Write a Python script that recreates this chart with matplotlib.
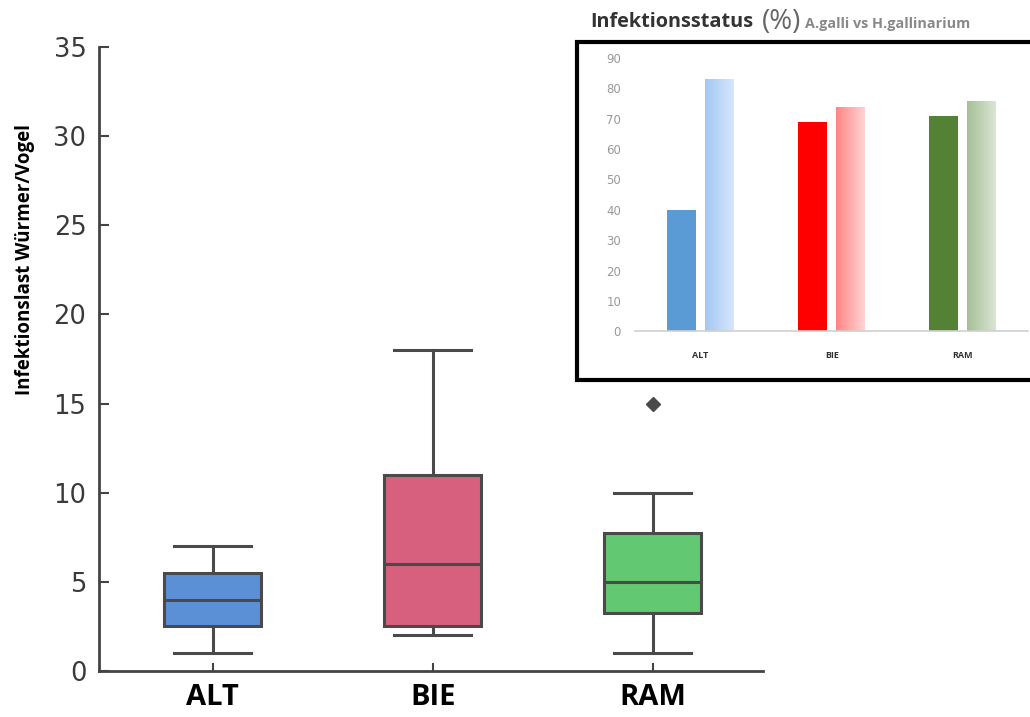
import matplotlib
matplotlib.use("Agg")
import matplotlib.pyplot as plt
import numpy as np
from matplotlib.patches import Rectangle
from matplotlib.colors import LinearSegmentedColormap

# ---- data: main boxplot ----
groups = ["ALT", "BIE", "RAM"]
whis_lo = [1, 2, 1]
q1 = [2.5, 2.5, 3.25]
med = [4, 6, 5]
q3 = [5.5, 11, 7.75]
whis_hi = [7, 18, 10]
outliers = [[], [], [15]]
box_colors = ["#5b8fd6", "#d6607e", "#63c872"]

# ---- data: inset bars ----
inset_cats = ["ALT", "BIE", "RAM"]
agalli = [40, 69, 71]
hgall = [83, 74, 76]
dark_cols = ["#5b9bd5", "#ff0000", "#548235"]
light_cols = ["#a4c8f4", "#ff8585", "#a5c097"]
light_end = ["#d6e6fb", "#ffd3d3", "#dbe5d4"]

fig = plt.figure(figsize=(10.3, 7.17), dpi=100)

ax = fig.add_axes([0.0961, 0.0642, 0.6447, 0.8702])
stats = []
for i in range(len(groups)):
    stats.append(dict(whislo=whis_lo[i], q1=q1[i], med=med[i], q3=q3[i],
                      whishi=whis_hi[i], fliers=outliers[i], label=groups[i]))
edge = "#4a4a4a"
bp = ax.bxp(stats, positions=range(len(groups)), widths=0.44, patch_artist=True,
            boxprops=dict(edgecolor=edge, linewidth=2.2),
            medianprops=dict(color=edge, linewidth=2.2),
            whiskerprops=dict(color=edge, linewidth=2.2),
            capprops=dict(color=edge, linewidth=2.2),
            capwidths=0.35,
            flierprops=dict(marker="D", markerfacecolor=edge, markeredgecolor=edge,
                            markersize=7))
for patch, c in zip(bp["boxes"], box_colors):
    patch.set_facecolor(c)

ax.set_xlim(-0.516, 2.5)
ax.set_ylim(0, 35)
ax.set_yticks(range(0, 36, 5))
ax.set_xticks(range(len(groups)))
ax.set_xticklabels(groups, fontsize=21, fontweight="bold", family="Open Sans")
for sp in ["top", "right"]:
    ax.spines[sp].set_visible(False)
for sp in ["left", "bottom"]:
    ax.spines[sp].set_color("#444444")
    ax.spines[sp].set_linewidth(2)
ax.tick_params(axis="y", direction="in", labelsize=18.5, colors="#444444",
               labelcolor="#3a3a3a", length=7, width=1.5, pad=9)
ax.tick_params(axis="x", direction="in", length=6, width=1.5, colors="#444444",
               labelcolor="black", pad=9)
for t in ax.get_yticklabels():
    t.set_family("DejaVu Sans")
ax.set_ylabel("Infektionslast Würmer/Vogel", fontsize=13.5, fontweight="bold",
              family="Open Sans")
ax.yaxis.set_label_coords(-0.096, 0.66)

# ---- inset box ----
rect = Rectangle((0.560, 0.470), 0.47, 0.471, transform=fig.transFigure,
                 fill=True, facecolor="white", edgecolor="black", linewidth=3,
                 clip_on=False, zorder=5)
fig.patches.append(rect)

iax = fig.add_axes([0.6165, 0.538, 0.382, 0.381], zorder=6)
iax.set_facecolor("none")
x = np.arange(len(inset_cats))
bw = 0.22
off = 0.145
b1 = iax.bar(x - off, agalli, width=bw, color=dark_cols)
b2 = iax.bar(x + off, hgall, width=bw, color=light_cols)
for bar, c0, c1 in zip(b2, light_cols, light_end):
    cmap = LinearSegmentedColormap.from_list("g", [c0, c1])
    x0, y0 = bar.get_x(), bar.get_y()
    w, h = bar.get_width(), bar.get_height()
    grad = np.linspace(0, 1, 64).reshape(1, -1)
    im = iax.imshow(grad, extent=[x0, x0 + w, y0, y0 + h], aspect="auto",
                    cmap=cmap, zorder=bar.get_zorder() + 0.1)
    im.set_clip_path(bar)
iax.set_xlim(-0.5, 2.5)
iax.set_ylim(0, 90)
iax.set_yticks(range(0, 91, 10))
iax.set_xticks(x)
iax.set_xticklabels(inset_cats, fontsize=6.5, fontweight="bold", color="#333333",
                    family="Open Sans")
for sp in ["top", "right", "left"]:
    iax.spines[sp].set_visible(False)
iax.spines["bottom"].set_color("#d0d0d0")
iax.spines["bottom"].set_linewidth(1.2)
iax.tick_params(axis="y", length=0, labelsize=8.5, labelcolor="#999999", pad=10)
iax.tick_params(axis="x", length=0, pad=14)

# ---- inset title ----
fig.text(0.573, 0.970, "Infektionsstatus", fontsize=14.3, fontweight="bold",
         color="#333333", family="Open Sans", va="center")
fig.text(0.740, 0.970, "(%)", fontsize=20, color="#666666", family="Open Sans",
         va="center")
fig.text(0.7815, 0.966, "A.galli vs H.gallinarium", fontsize=10.4, fontweight="bold",
         color="#888888", family="Open Sans", va="center")

fig.savefig("out.png", dpi=100)
